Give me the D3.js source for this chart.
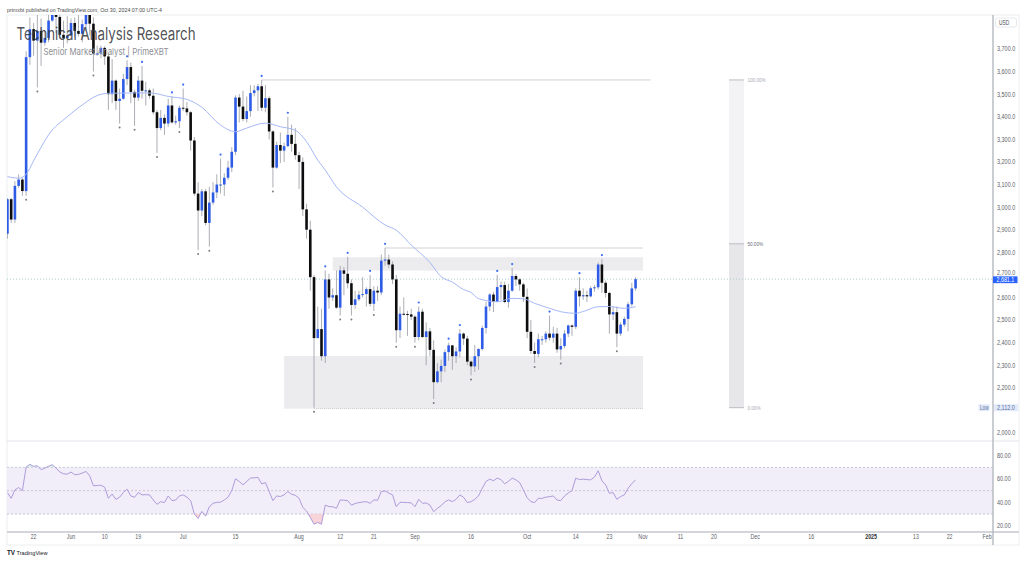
<!DOCTYPE html>
<html><head><meta charset="utf-8">
<script src="https://cdn.jsdelivr.net/npm/d3@7/dist/d3.min.js"></script>
<style>html,body{margin:0;padding:0;background:#fff;}svg{display:block;}</style>
</head><body><div id="chart"></div>
<script>
// ---------------- DATA ----------------
const startDate = "2024-05-15";
const opens  = [2882,3035,2945,3094,3122,3071,3664,3788,3737,3780,3728,3749,3826,3893,3842,3763,3748,3760,3815,3780,3767,3810,3866,3812,3680,3680,3705,3667,3500,3560,3470,3480,3567,3620,3510,3485,3560,3515,3517,3493,3420,3350,3395,3370,3450,3375,3380,3440,3437,3420,3295,3060,2985,3070,2930,3020,3065,3100,3100,3130,3175,3245,3485,3445,3390,3425,3505,3517,3535,3440,3482,3335,3175,3275,3250,3270,3320,3280,3230,3200,2990,2900,2690,2420,2460,2340,2680,2600,2610,2555,2720,2705,2663,2567,2592,2612,2615,2637,2572,2630,2622,2763,2768,2746,2680,2455,2528,2527,2525,2515,2425,2537,2425,2450,2368,2225,2273,2297,2358,2388,2340,2361,2440,2418,2316,2295,2340,2372,2465,2560,2613,2580,2646,2655,2580,2630,2695,2680,2658,2603,2448,2363,2350,2415,2415,2440,2422,2440,2370,2385,2440,2476,2470,2630,2605,2610,2605,2641,2645,2746,2665,2620,2525,2535,2440,2480,2505,2570,2640];
const highs  = [3040,3040,3115,3145,3130,3690,3840,3815,3950,3835,3780,3875,3975,3930,3885,3825,3845,3835,3840,3850,3830,3885,3875,3840,3715,3715,3712,3680,3655,3565,3525,3590,3650,3640,3520,3580,3625,3555,3525,3525,3430,3430,3410,3480,3490,3405,3450,3525,3465,3425,3310,3110,3080,3080,3090,3110,3145,3215,3150,3205,3265,3495,3500,3515,3490,3540,3540,3545,3563,3540,3490,3340,3290,3330,3285,3400,3365,3350,3245,3220,3015,2940,2700,2560,2550,2720,2705,2640,2720,2740,2735,2780,2680,2630,2630,2690,2645,2700,2650,2650,2790,2820,2790,2760,2700,2560,2600,2540,2550,2520,2560,2550,2490,2465,2410,2310,2325,2370,2400,2390,2380,2460,2445,2430,2320,2390,2375,2475,2580,2620,2625,2700,2670,2670,2660,2730,2705,2685,2665,2640,2500,2400,2440,2430,2450,2520,2470,2465,2420,2455,2480,2480,2640,2690,2640,2630,2650,2655,2755,2770,2675,2625,2560,2560,2490,2515,2580,2665,2690];
const lows   = [2860,2930,2930,3085,3050,3050,3630,3670,3530,3625,3715,3730,3820,3770,3745,3705,3725,3755,3755,3755,3730,3780,3760,3600,3670,3660,3630,3430,3460,3430,3370,3475,3540,3460,3360,3470,3480,3450,3480,3410,3240,3340,3320,3355,3370,3365,3350,3425,3405,3250,3050,2810,2960,2920,2825,3010,3040,3060,3050,3120,3155,3230,3375,3380,3375,3400,3490,3425,3425,3420,3300,3087,3170,3195,3200,3265,3245,3210,3080,2960,2860,2630,2112,2420,2320,2310,2550,2585,2550,2520,2610,2640,2520,2550,2585,2600,2560,2560,2540,2585,2610,2740,2730,2660,2400,2420,2520,2430,2500,2400,2410,2420,2300,2340,2150,2220,2225,2270,2320,2280,2310,2335,2390,2300,2255,2270,2280,2365,2440,2540,2535,2580,2590,2575,2555,2625,2650,2630,2580,2420,2350,2310,2335,2390,2400,2410,2400,2355,2325,2375,2425,2430,2460,2560,2590,2580,2600,2625,2635,2620,2600,2440,2500,2380,2430,2470,2450,2560,2630];
const closes = [3035,2945,3094,3122,3071,3664,3788,3737,3780,3728,3749,3826,3893,3842,3763,3748,3760,3815,3780,3767,3810,3866,3812,3680,3680,3705,3667,3500,3560,3470,3480,3567,3620,3510,3485,3560,3515,3517,3493,3420,3350,3395,3370,3450,3375,3380,3440,3437,3420,3295,3060,2985,3070,2930,3020,3065,3100,3100,3130,3175,3245,3485,3445,3390,3425,3505,3517,3535,3440,3482,3335,3175,3275,3250,3270,3320,3280,3230,3200,2990,2900,2690,2420,2460,2340,2680,2600,2610,2555,2720,2705,2663,2567,2592,2612,2615,2637,2572,2630,2622,2763,2768,2746,2680,2455,2528,2527,2525,2515,2425,2537,2425,2450,2368,2225,2273,2297,2358,2388,2340,2361,2440,2418,2316,2295,2340,2372,2465,2560,2613,2580,2646,2655,2580,2630,2695,2680,2658,2603,2448,2363,2350,2415,2415,2440,2422,2440,2370,2385,2440,2476,2470,2630,2605,2610,2605,2641,2645,2746,2665,2620,2525,2535,2440,2480,2505,2570,2640,2681.1];
const rsiValues = [48.4,43.5,50.7,52.7,50.1,70.3,72.6,70.9,71.4,68,69.4,71,72.3,69.4,66,64.5,64.2,66,63.7,64,65.1,66.5,62.8,54.2,54.5,54.7,53,43.5,47.2,42.6,44.4,48.5,51.3,45.5,44.4,48.4,46.4,46.6,46.4,42,38.3,40.6,39.8,45.5,41.5,42,45.5,46.4,44.5,41.5,30,26.2,32.3,28.2,36.3,39.2,40,40.2,42,44.4,50.1,60.2,57.9,55,57.9,60.8,61,61.4,55.9,57,49.3,41.5,45.5,45,46.4,49.3,47,46,43.5,35.7,32.6,27.1,21.3,22.8,21.3,37.7,36.3,36.3,34.9,42.1,41.8,41.5,37.7,39,39.8,40.3,40.6,39.2,42.1,41.8,49.3,49.8,48,46.4,36.3,40.1,40,39.8,39.6,36.3,42.6,39.2,39.5,37.7,32,34.9,37.2,40.5,42.1,40.6,42.6,46.4,44.4,39.8,40.6,42.6,45.5,52.1,57.9,59.9,58.5,60.8,59.5,55.9,58,60.8,59.3,57,50.7,44,40.6,39.8,43.5,43.4,44.5,44.9,45.5,42,41.5,45.5,48,50.1,60.8,59.5,59.9,59.5,59.3,61.6,67.1,58.5,55,47.8,48.4,42.6,45,46.4,52.1,56,59.3];
const maDates  = ["2024-05-15","2024-05-18","2024-05-20","2024-05-22","2024-05-24","2024-05-26","2024-05-31","2024-06-04","2024-06-08","2024-06-11","2024-06-16","2024-06-19","2024-06-23","2024-06-27","2024-07-02","2024-07-06","2024-07-11","2024-07-15","2024-07-18","2024-07-23","2024-07-27","2024-07-31","2024-08-03","2024-08-06","2024-08-08","2024-08-11","2024-08-18","2024-08-24","2024-08-27","2024-08-31","2024-09-05","2024-09-08","2024-09-11","2024-09-14","2024-09-16","2024-09-18","2024-09-23","2024-09-27","2024-09-30","2024-10-03","2024-10-07","2024-10-10","2024-10-14","2024-10-16","2024-10-20","2024-10-23","2024-10-27","2024-10-30"];
const maValues = [3135,3128,3145,3205,3265,3320,3400,3452,3494,3504,3505,3506,3504,3490,3477,3442,3363,3334,3350,3372,3356,3340,3290,3208,3164,3090,3000,2921,2898,2832,2755,2692,2668,2635,2622,2595,2581,2596,2594,2574,2552,2537,2530,2538,2559,2560,2552,2559];
const pivotHighDates = ["2024-06-16","2024-06-20","2024-06-28","2024-07-01","2024-07-11","2024-07-22","2024-07-29","2024-08-08","2024-08-14","2024-08-20","2024-08-24","2024-09-02","2024-09-10","2024-09-13","2024-09-23","2024-09-27","2024-10-07","2024-10-15","2024-10-21"];
const pivotLowDates  = ["2024-05-20","2024-05-23","2024-06-07","2024-06-14","2024-06-18","2024-06-24","2024-06-30","2024-07-05","2024-07-08","2024-07-25","2024-08-05","2024-08-12","2024-08-15","2024-08-21","2024-08-27","2024-09-01","2024-09-06","2024-09-16","2024-10-03","2024-10-10","2024-10-25"];
const zoneStarts = ["2024-08-10","2024-07-28"];
const zoneEnds   = ["2024-11-01","2024-11-01"];
const zoneTops   = [2778, 2341];
const zoneBottoms= [2719, 2108];
const levelPrices = [3563, 2819];
const levelStarts = ["2024-07-22","2024-08-24"];
const levelEnds   = ["2024-11-03","2024-11-01"];
const rangeHigh = 3563, rangeLow = 2112;
const rangeStart = "2024-11-24", rangeEnd = "2024-11-28";
const rangeLabels = ["100.00%","50.00%","0.00%"];
const rangeFractions = [1, 0.5, 0];
const priceTicks = [2000,2200,2300,2400,2500,2600,2700,2800,2900,3000,3100,3200,3300,3400,3500,3600,3700];
const rsiTicks = [80,60,40,20];
const rsiLevels = [70,50,30];
const timeTickDates  = ["2024-05-22","2024-06-01","2024-06-10","2024-06-19","2024-07-01","2024-07-15","2024-08-01","2024-08-12","2024-08-21","2024-09-01","2024-09-16","2024-10-01","2024-10-14","2024-10-23","2024-11-01","2024-11-11","2024-11-20","2024-12-01","2024-12-16","2025-01-01","2025-01-13","2025-01-22","2025-02-01"];
const timeTickLabels = ["22","Jun","10","19","Jul","15","Aug","12","21","Sep","16","Oct","14","23","Nov","11","20","Dec","16","2025","13","22","Feb"];
const lastPrice = 2681.1, lowPrice = 2112.0;

// ---------------- SETUP ----------------
const W = 1024, H = 569;
const L = 7, AX = 993, R = 1019, TOP = 15, PB = 441, RB = 532, TB = 545;
const FONT = "'Liberation Sans', Arial, sans-serif";
const SX = 0.74;
const parse = d3.utcParse("%Y-%m-%d");
const svg = d3.select("#chart").append("svg").attr("width", W).attr("height", H);
const x = d3.scaleUtc().domain([parse("2024-06-01"), parse("2025-02-01")]).range([71, 987]);
const y = d3.scaleLinear().domain([2000, 3700]).range([433, 49]);
const yr = d3.scaleLinear().domain([20, 80]).range([525.7, 455.7]);
const start = parse(startDate);
const candles = closes.map((c, i) => ({d: d3.utcDay.offset(start, i), o: opens[i], h: highs[i], l: lows[i], c}));
const byDate = new Map(candles.map(k => [d3.utcFormat("%Y-%m-%d")(k.d), k]));

function label(g, tx, ty, s, size, fill, opt = {}) {
  return g.append("text")
    .attr("transform", `translate(${tx},${ty}) scale(${opt.sx || SX},1)`)
    .attr("font-family", opt.family || FONT).attr("font-size", size)
    .attr("font-weight", opt.weight || "normal")
    .attr("text-anchor", opt.anchor || "start").attr("fill", fill).text(s);
}

const defs = svg.append("defs");
defs.append("clipPath").attr("id", "pclip").append("rect").attr("x", L).attr("y", TOP).attr("width", AX - L).attr("height", PB - TOP);
defs.append("clipPath").attr("id", "rclip").append("rect").attr("x", L).attr("y", PB).attr("width", AX - L).attr("height", RB - PB);
defs.append("clipPath").attr("id", "osclip").append("rect").attr("x", L).attr("y", yr(30)).attr("width", AX - L).attr("height", RB - yr(30));
defs.append("clipPath").attr("id", "obclip").append("rect").attr("x", L).attr("y", PB).attr("width", AX - L).attr("height", yr(70) - PB);

// frame
svg.append("rect").attr("x", L).attr("y", TOP).attr("width", R - L).attr("height", TB - TOP).attr("fill", "none").attr("stroke", "#eceef2");
svg.append("line").attr("x1", L).attr("x2", R).attr("y1", PB).attr("y2", PB).attr("stroke", "#e3e5ea");
svg.append("line").attr("x1", L).attr("x2", R).attr("y1", RB).attr("y2", RB).attr("stroke", "#c4c7ce").attr("stroke-width", 1.5);

// ---------------- PRICE PANE ----------------
const pg = svg.append("g").attr("clip-path", "url(#pclip)");
pg.selectAll("rect.zone").data(zoneTops).join("rect").attr("class", "zone")
  .attr("x", (d, i) => x(parse(zoneStarts[i]))).attr("width", (d, i) => x(parse(zoneEnds[i])) - x(parse(zoneStarts[i])))
  .attr("y", d => y(d)).attr("height", (d, i) => y(zoneBottoms[i]) - y(d)).attr("fill", "#ececef");
pg.append("line").attr("x1", x(parse("2024-08-05"))).attr("x2", x(parse(zoneEnds[1])))
  .attr("y1", y(zoneBottoms[1])).attr("y2", y(zoneBottoms[1])).attr("stroke", "#c9c9cf").attr("stroke-dasharray", "1,1");
pg.selectAll("line.lvl").data(levelPrices).join("line").attr("class", "lvl")
  .attr("x1", (d, i) => x(parse(levelStarts[i]))).attr("x2", (d, i) => x(parse(levelEnds[i])))
  .attr("y1", d => y(d)).attr("y2", d => y(d)).attr("stroke", "#c6c6cc").attr("stroke-width", 0.8);
const rx0 = x(parse(rangeStart)), rx1 = x(parse(rangeEnd));
const rangeP = f => rangeLow + (rangeHigh - rangeLow) * f;
pg.append("rect").attr("x", rx0).attr("width", rx1 - rx0).attr("y", y(rangeP(1))).attr("height", y(rangeP(0.5)) - y(rangeP(1))).attr("fill", "#f3f3f5");
pg.append("rect").attr("x", rx0).attr("width", rx1 - rx0).attr("y", y(rangeP(0.5))).attr("height", y(rangeP(0)) - y(rangeP(0.5))).attr("fill", "#e7e7e9");
rangeFractions.forEach((f, i) => {
  pg.append("line").attr("x1", rx0).attr("x2", rx1).attr("y1", y(rangeP(f))).attr("y2", y(rangeP(f))).attr("stroke", "#bdbdc2").attr("stroke-width", 1);
  label(pg, rx1 + 3.5, y(rangeP(f)) + 2, rangeLabels[i], 6.2, f === 0.5 ? "#6a6d75" : "#a9abb2");
});
pg.append("line").attr("x1", L).attr("x2", AX).attr("y1", y(lastPrice)).attr("y2", y(lastPrice))
  .attr("stroke", "#a9d0cf").attr("stroke-dasharray", "1,2").attr("stroke-width", 1);

// candles
const bw = 2.6;
pg.selectAll("line.wick").data(candles).join("line").attr("class", "wick")
  .attr("x1", d => x(d.d)).attr("x2", d => x(d.d)).attr("y1", d => y(d.h)).attr("y2", d => y(d.l))
  .attr("stroke", "#a3a5ab").attr("stroke-width", 0.9);
pg.selectAll("rect.body").data(candles).join("rect").attr("class", "body")
  .attr("x", d => x(d.d) - bw / 2).attr("width", bw)
  .attr("y", d => y(Math.max(d.o, d.c))).attr("height", d => Math.max(1, Math.abs(y(d.o) - y(d.c))))
  .attr("fill", d => d.c >= d.o ? "#2e5ce6" : "#0d0d0d");
const ma = maDates.map((d, i) => ({d: parse(d), v: maValues[i]}));
pg.append("path").datum(ma).attr("fill", "none").attr("stroke", "#a5b8f6").attr("stroke-width", 1)
  .attr("d", d3.line().x(d => x(d.d)).y(d => y(d.v)).curve(d3.curveMonotoneX));
pg.selectAll("circle.ph").data(pivotHighDates.map(d => byDate.get(d))).join("circle").attr("class", "ph")
  .attr("cx", d => x(d.d)).attr("cy", d => y(d.h) - 4).attr("r", 1.1).attr("fill", "#3d6df2");
pg.selectAll("circle.pl").data(pivotLowDates.map(d => byDate.get(d))).join("circle").attr("class", "pl")
  .attr("cx", d => x(d.d)).attr("cy", d => y(d.l) + 4).attr("r", 1).attr("fill", "#7a7c82");

// ---------------- RSI PANE ----------------
const rg = svg.append("g").attr("clip-path", "url(#rclip)");
rg.append("rect").attr("x", L).attr("width", AX - L).attr("y", yr(70)).attr("height", yr(30) - yr(70)).attr("fill", "#f1eef9");
rsiLevels.forEach(v => rg.append("line").attr("x1", L).attr("x2", AX).attr("y1", yr(v)).attr("y2", yr(v))
  .attr("stroke", "#bdb6cc").attr("stroke-dasharray", "2,2").attr("stroke-width", 0.8));
const rsi = candles.map((k, i) => ({d: k.d, v: rsiValues[i]}));
rg.append("path").datum(rsi).attr("clip-path", "url(#osclip)").attr("fill", "#f8d4d8")
  .attr("d", d3.area().x(d => x(d.d)).y0(yr(30)).y1(d => yr(d.v)));
rg.append("path").datum(rsi).attr("clip-path", "url(#obclip)").attr("fill", "#d6eee6")
  .attr("d", d3.area().x(d => x(d.d)).y0(yr(70)).y1(d => yr(d.v)));
rg.append("path").datum(rsi).attr("fill", "none").attr("stroke", "#ad9cdb").attr("stroke-width", 1)
  .attr("d", d3.line().x(d => x(d.d)).y(d => yr(d.v)));

// ---------------- AXES ----------------
svg.append("line").attr("x1", AX).attr("x2", AX).attr("y1", TOP).attr("y2", TB).attr("stroke", "#b9bcc3").attr("stroke-width", 1.5);
const ax = svg.append("g");
const fmt = d3.format(",.1f");
priceTicks.forEach(p => label(ax, 997, y(p) + (p === 2700 ? 0 : 2.4), fmt(p), 7.4, "#5d6068"));
rsiTicks.forEach(v => label(ax, 997, yr(v) + 2.4, d3.format(".2f")(v), 7.4, "#5d6068"));
timeTickDates.forEach((d, i) => label(ax, x(parse(d)), 539.2, timeTickLabels[i], 7.2, timeTickLabels[i] === "2025" ? "#2a2d33" : "#5d6068",
  {anchor: "middle", weight: timeTickLabels[i] === "2025" ? "bold" : "normal"}));
ax.append("rect").attr("x", 995.5).attr("y", 18).attr("width", 21).attr("height", 9).attr("rx", 2).attr("fill", "#fff").attr("stroke", "#e6e8ec");
label(ax, 999, 24.8, "USD", 6.6, "#4a4d55");
ax.append("rect").attr("x", AX).attr("y", y(lastPrice) - 2.8).attr("width", 24.5).attr("height", 6.8).attr("fill", "#2962ff");
label(ax, 996.5, y(lastPrice) + 2.9, fmt(lastPrice), 7.2, "#ffffff");
ax.append("rect").attr("x", 978.5).attr("y", y(lowPrice) - 3.5).attr("width", 11).attr("height", 7).attr("fill", "#e2ebfb");
label(ax, 980, y(lowPrice) + 2.2, "Low", 6.4, "#5b6f9e");
ax.append("rect").attr("x", AX + 1).attr("y", y(lowPrice) - 3.5).attr("width", 24).attr("height", 7).attr("fill", "#e2ebfb");
label(ax, 997, y(lowPrice) + 2.4, fmt(lowPrice), 7.4, "#5b6f9e");

// ---------------- TEXTS ----------------
svg.append("text").attr("x", 7).attr("y", 12.3).attr("font-family", FONT).attr("font-size", 5.8).attr("fill", "#4a4a4a")
  .attr("textLength", 155).attr("lengthAdjust", "spacingAndGlyphs").text("primxbt published on TradingView.com, Oct 30, 2024 07:00 UTC-4");
svg.append("text").attr("x", 16.5).attr("y", 39.5).attr("font-family", "Inter, 'Noto Sans', sans-serif").attr("font-size", 17).attr("fill", "#3a3c42").attr("fill-opacity", 0.9)
  .attr("textLength", 179).attr("lengthAdjust", "spacingAndGlyphs").text("Technical Analysis Research");
svg.append("text").attr("x", 43.5).attr("y", 55).attr("font-family", "Inter, 'Noto Sans', sans-serif").attr("font-size", 9.6).attr("fill", "#8d8f95")
  .attr("textLength", 125).attr("lengthAdjust", "spacingAndGlyphs").text("Senior Market Analyst | PrimeXBT");
svg.append("text").attr("x", 7).attr("y", 554.8).attr("font-family", FONT).attr("font-size", 6.5).attr("font-weight", "bold").attr("fill", "#131722")
  .attr("textLength", 8).attr("lengthAdjust", "spacingAndGlyphs").text("TV");
svg.append("text").attr("x", 16.5).attr("y", 554.6).attr("font-family", FONT).attr("font-size", 5.8).attr("fill", "#131722")
  .attr("textLength", 31).attr("lengthAdjust", "spacingAndGlyphs").text("TradingView");
</script></body></html>
